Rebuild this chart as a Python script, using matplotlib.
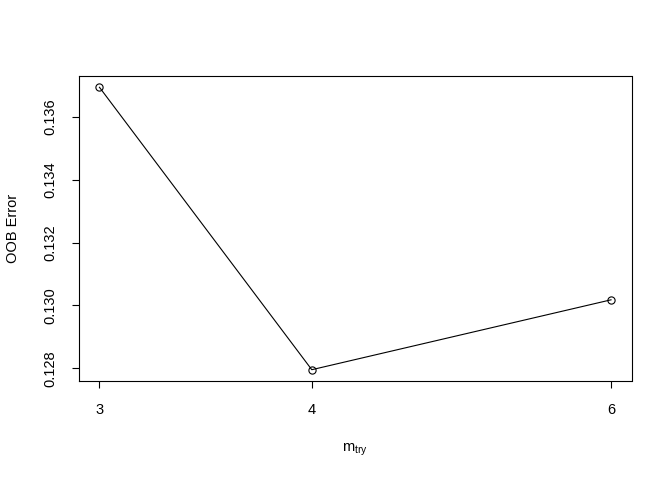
import numpy as np
import matplotlib.pyplot as plt
from matplotlib.ticker import FixedLocator, NullLocator

plt.rcParams['font.family'] = ['Liberation Sans', 'DejaVu Sans']

mtry = [3, 4, 6]
oob_error = [0.13693, 0.12796, 0.13018]
xticks = [3, 4, 6]
yticks = [0.128, 0.130, 0.132, 0.134, 0.136]

fig = plt.figure(figsize=(6.72, 4.8), dpi=100)
ax = fig.add_axes([79/672, 1-381/480, (631.5-79)/672, (381-76)/480])

ax.plot(mtry, oob_error, color='black', linewidth=0.8,
        marker='o', markersize=5.2, markerfacecolor='none',
        markeredgewidth=0.8)

ax.set_xscale('log')
lx = np.log(mtry)
pad = 0.04*(lx.max()-lx.min())
ax.set_xlim(np.exp(lx.min()-pad), np.exp(lx.max()+pad))
ypad = 0.04*(max(oob_error)-min(oob_error))
ax.set_ylim(min(oob_error)-ypad, max(oob_error)+ypad)

ax.xaxis.set_major_locator(FixedLocator(xticks))
ax.xaxis.set_minor_locator(NullLocator())
ax.set_xticklabels([str(t) for t in xticks])
ax.set_yticks(yticks)
ax.set_yticklabels(['%.3f' % t for t in yticks])

fs = 10.5
ax.tick_params(axis='both', direction='out', length=5, width=0.8,
               labelsize=fs, color='black')
ax.tick_params(axis='x', pad=11)
ax.tick_params(axis='y', pad=10.5, labelrotation=90)
for lab in ax.get_yticklabels():
    lab.set_va('center')
for s in ax.spines.values():
    s.set_linewidth(0.8)

ax.set_xlabel(r'$\mathregular{m_{try}}$', fontsize=fs)
ax.set_ylabel('OOB Error', fontsize=fs)
ax.xaxis.set_label_coords(0.5, -0.2)
ax.yaxis.set_label_coords(-0.106, 0.5)

fig.savefig('out.png', dpi=100)
